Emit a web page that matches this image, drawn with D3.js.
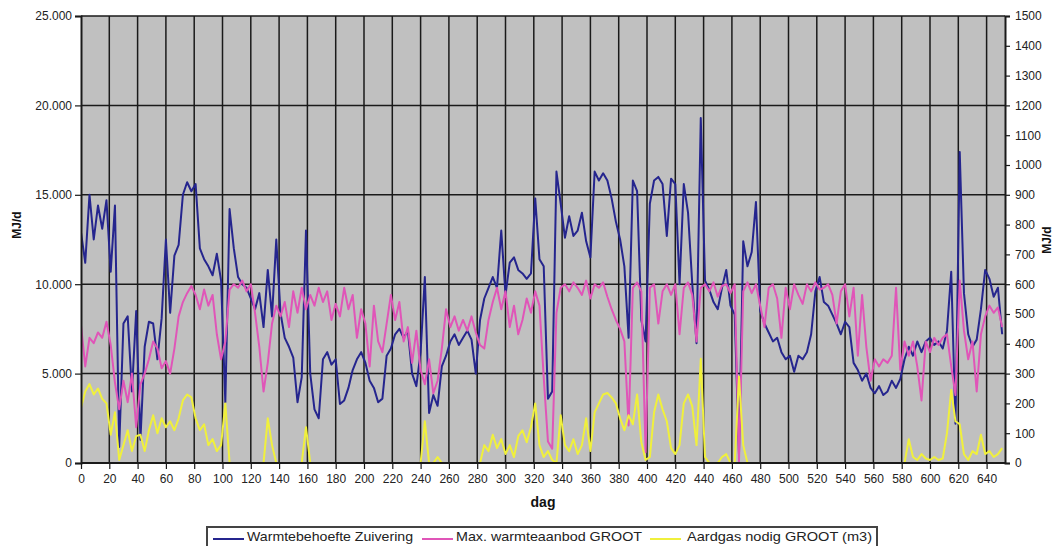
<!DOCTYPE html>
<html>
<head>
<meta charset="utf-8">
<script src="https://cdn.jsdelivr.net/npm/d3@7"></script>
<style>
  body { margin: 0; background: #fff; }
  text { font-family: "Liberation Sans", Arial, sans-serif; }
</style>
</head>
<body>
<svg id="chart" width="1062" height="546"></svg>
<script>
// Daily series, sampled every 3 days (day 0, 3, 6, ... 651)
const days = d3.range(0, 652, 3);

// Warmtebehoefte Zuivering (MJ/d), left axis
const warmtebehoefte = [
  12900, 11200, 15000, 12500, 14400, 13100, 14700, 10700, 14400, 900,
  7800, 8200, 4000, 8500, 1300, 6500, 7900, 7800, 5800, 8100,
  12500, 8400, 11600, 12200, 15000, 15700, 15200, 15600, 12000, 11400,
  11000, 10500, 11700, 10200, 3400, 14200, 12000, 10400, 10000, 9800,
  9200, 8600, 9500, 7600, 10800, 8200, 12500, 8400, 7000, 6500,
  5900, 3400, 4800, 13000, 5000, 3000, 2500, 5800, 6200, 5500,
  5800, 3300, 3500, 4200, 5200, 5800, 6200, 5600, 4600, 4200,
  3400, 3600, 6000, 6400, 7200, 7500, 7000, 7400, 5000, 4300,
  6200, 10400, 2800, 3800, 3200, 5400, 6000, 6800, 7200, 6600,
  7000, 7400, 6900, 5000, 8000, 9200, 9800, 10400, 9800, 13000,
  9400, 11200, 11500, 10800, 10600, 10300, 10600, 14800, 11400, 11000,
  3600, 4000, 16300, 14500, 12600, 13800, 12700, 13000, 14000, 12400,
  11500, 16300, 15800, 16200, 15800, 14800, 13500, 12500, 11000, 7000,
  15800, 15200, 8000, 6800, 14500, 15800, 16000, 15600, 12700, 15900,
  15600, 10000, 15600, 14000, 10000, 6700, 19300, 10200, 9700, 9000,
  8600, 9800, 10800, 8800, 8300, 500, 12400, 11000, 11800, 14600,
  8500, 7800, 7300, 6800, 7000, 6200, 5800, 6000, 5100, 6000,
  5800, 6200, 7200, 9600, 10400, 9000, 8800, 8300, 7800, 7200,
  7900, 7600, 5600, 5200, 4600, 5000, 4200, 3900, 4300, 3800,
  4000, 4600, 4200, 4700, 5800, 6500, 6000, 6800, 6200, 6800,
  7000, 6600, 6800, 6400, 7400, 10700, 2200, 17400, 9500, 7200,
  6500, 6900, 8600, 10800, 10300, 9300, 9800, 7200
];

// Max. warmteaanbod GROOT (MJ/d), left axis
const warmteaanbod = [
  7700, 5400, 7000, 6700, 7300, 7000, 7900, 6600, 4500, 3000,
  4600, 3400, 5000, 2000, 4400, 5000, 5800, 6800, 6400, 5300,
  5700, 5000, 6400, 8200, 9000, 9500, 9900, 9400, 8600, 9700,
  8800, 9400, 7200, 5800, 6800, 9700, 10000, 9800, 10200, 9600,
  10000, 8400, 6500, 4000, 5600, 7800, 8800, 8200, 9000, 7600,
  9600, 8400, 9800, 8600, 9400, 8800, 9800, 9000, 9600, 8000,
  8900, 8200, 9800, 8600, 9400, 7000, 8600, 7800, 5400, 8800,
  6800, 6200, 7800, 9400, 8000, 9000, 6800, 7600, 5600, 7400,
  5200, 4400, 5800, 3900, 4600, 6400, 8600, 7600, 8200, 7400,
  8000, 7400, 8200, 7300, 6600, 6400, 8000, 9000, 9800, 8600,
  9600, 7600, 8800, 7200, 8000, 9200, 8400, 9600, 8800, 4800,
  1200, 800, 8400, 9800, 10000, 9600, 10100, 9800, 9400, 10200,
  9200, 10000, 9800, 10100, 9300, 8600, 8000, 7500, 6800, 2100,
  9800, 10100, 9600, 600, 9800, 10000, 7800, 9600, 10000, 9400,
  10000, 7200, 9800, 10100, 9400, 6800, 9800, 10000, 9600, 10100,
  9300, 9900, 10000, 9500, 10000, 100, 9600, 10100, 9500, 10000,
  8800, 7600, 9800, 10000, 9200, 7000, 9800, 8600, 10000, 9400,
  8900, 10000, 9600, 10100, 9700, 9800, 10000, 9400, 7800, 9600,
  10000, 8200, 9800, 6000, 9400, 6500, 4600, 5800, 5400, 5800,
  5600, 6000, 9800, 5200, 6800, 6000, 6800, 5400, 3500, 6800,
  6200, 7000, 6600, 7000, 7200, 5400, 3800, 10200, 7400, 5800,
  6800, 4000, 7200, 8200, 8800, 8400, 8700, 7600
];

// Aardgas nodig GROOT (m3), right axis
const aardgas = [
  185, 240, 265, 230, 250, 215, 200, 95, 170, 10,
  60, 110, 40, 90, 95, 40, 110, 160, 100, 150,
  120, 140, 110, 150, 210, 230, 220, 150, 110, 130,
  60, 80, 40, 60, 200, 0, 0, 0, 0, 0,
  0, 0, 0, 0, 150, 60, 0, 0, 0, 0,
  0, 0, 0, 120, 0, 0, 0, 0, 0, 0,
  0, 0, 0, 0, 0, 0, 0, 0, 0, 0,
  0, 0, 0, 0, 0, 0, 0, 0, 0, 0,
  0, 140, 0, 0, 20, 0, 0, 0, 0, 0,
  0, 0, 0, 0, 0, 60, 40, 95, 50, 80,
  30, 60, 20, 90, 110, 70, 120, 200, 60, 20,
  40, 10, 0, 160, 60, 40, 80, 30, 60, 150,
  40, 170, 200, 230, 235, 220, 200, 150, 110, 160,
  130, 230, 70, 10, 20, 170, 230, 180, 140, 50,
  30, 60, 200, 230, 190, 60, 350, 20, 0, 0,
  0, 20, 30, 0, 0, 290, 60, 0, 0, 0,
  0, 0, 0, 0, 0, 0, 0, 0, 0, 0,
  0, 0, 0, 0, 0, 0, 0, 0, 0, 0,
  0, 0, 0, 0, 0, 0, 0, 0, 0, 0,
  0, 0, 0, 0, 0, 80, 20, 10, 30, 15,
  10, 20, 10, 15, 100, 245, 140, 130, 30, 10,
  40, 30, 95, 30, 40, 20, 30, 50
];

const seriesNames = ["Warmtebehoefte Zuivering", "Max. warmteaanbod GROOT", "Aardgas nodig GROOT (m3)"];
const seriesColors = ["#25258e", "#e055b8", "#f0f03c"];

const leftTicks = [0, 5000, 10000, 15000, 20000, 25000];
const rightTicks = d3.range(0, 1501, 100);
const dayTicks = d3.range(0, 641, 20);

const svg = d3.select("#chart");
const W = 1062, H = 546;
const plot = { left: 81, right: 1005, top: 16, bottom: 463 };

const x = d3.scaleLinear().domain([0, 653]).range([plot.left, plot.right]);
const yL = d3.scaleLinear().domain([0, 25000]).range([plot.bottom, plot.top]);
const yR = d3.scaleLinear().domain([0, 1500]).range([plot.bottom, plot.top]);

const nl = d3.formatLocale({ decimal: ",", thousands: ".", grouping: [3], currency: ["€", ""] });
const fmtNL = nl.format(",");

svg.append("rect").attr("width", W).attr("height", H).attr("fill", "#fff");

// plot background
svg.append("rect")
  .attr("x", plot.left).attr("y", plot.top)
  .attr("width", plot.right - plot.left).attr("height", plot.bottom - plot.top)
  .attr("fill", "#c0c0c0");

svg.append("clipPath").attr("id", "plot-clip").append("rect")
  .attr("x", plot.left).attr("y", plot.top - 2)
  .attr("width", plot.right - plot.left).attr("height", plot.bottom - plot.top + 1);

// gridlines
const grid = svg.append("g").attr("stroke", "#1a1a1a").attr("stroke-width", 1.5);
grid.selectAll("line.h").data(leftTicks.filter(d => d > 0)).join("line")
  .attr("x1", plot.left).attr("x2", plot.right)
  .attr("y1", d => yL(d)).attr("y2", d => yL(d));
grid.selectAll("line.v").data(dayTicks.filter(d => d > 0)).join("line")
  .attr("y1", plot.top).attr("y2", plot.bottom)
  .attr("x1", d => x(d)).attr("x2", d => x(d));

// series
const lineL = d3.line().x((d, i) => x(days[i])).y(d => yL(d));
const lineR = d3.line().x((d, i) => x(days[i])).y(d => yR(d));
const series = svg.append("g").attr("clip-path", "url(#plot-clip)")
  .attr("fill", "none").attr("stroke-width", 2).attr("stroke-linejoin", "round");
series.append("path").datum(warmtebehoefte).attr("d", lineL).attr("stroke", seriesColors[0]);
series.append("path").datum(warmteaanbod).attr("d", lineL).attr("stroke", seriesColors[1]);
series.append("path").datum(aardgas).attr("d", lineR).attr("stroke", seriesColors[2]);

// axes
const axisStyle = g => {
  g.select(".domain").attr("stroke", "#1a1a1a").attr("stroke-width", 2);
  g.selectAll(".tick line").attr("stroke", "#1a1a1a").attr("stroke-width", 1.2);
  g.selectAll(".tick text").attr("fill", "#222").attr("font-size", 12)
    .attr("font-family", "'Liberation Sans', Arial, sans-serif");
};

svg.append("g").attr("transform", `translate(${plot.left},0)`)
  .call(d3.axisLeft(yL).tickValues(leftTicks).tickFormat(fmtNL).tickSizeOuter(0).tickSize(6).tickPadding(3))
  .call(axisStyle);

svg.append("g").attr("transform", `translate(${plot.right},0)`)
  .call(d3.axisRight(yR).tickValues(rightTicks).tickFormat(d3.format("d")).tickSizeOuter(0).tickSize(5).tickPadding(5))
  .call(axisStyle);

svg.append("g").attr("transform", `translate(0,${plot.bottom})`)
  .call(d3.axisBottom(x).tickValues(dayTicks).tickFormat(d3.format("d")).tickSizeOuter(0).tickSize(6).tickPadding(5))
  .call(axisStyle)
  .call(g => g.select(".domain").attr("d", `M${plot.left},0H${plot.right}`));

// axis titles
svg.append("text").attr("transform", "translate(21,225) rotate(-90)")
  .attr("text-anchor", "middle").attr("font-size", 12).attr("font-weight", "bold").attr("fill", "#111")
  .text("MJ/d");
svg.append("text").attr("transform", "translate(1051,240) rotate(-90)")
  .attr("text-anchor", "middle").attr("font-size", 12).attr("font-weight", "bold").attr("fill", "#111")
  .text("MJ/d");
svg.append("text").attr("x", 543).attr("y", 507)
  .attr("text-anchor", "middle").attr("font-size", 14).attr("font-weight", "bold").attr("fill", "#111")
  .text("dag");

// legend
const legend = svg.append("g");
legend.append("rect").attr("x", 207).attr("y", 527).attr("width", 670).attr("height", 30)
  .attr("fill", "#fff").attr("stroke", "#444").attr("stroke-width", 2);
const legendItems = [
  { sx: 213, tx: 247, tw: 166 },
  { sx: 422, tx: 456, tw: 186 },
  { sx: 650, tx: 687, tw: 185 }
];
legendItems.forEach((it, i) => {
  legend.append("line").attr("x1", it.sx).attr("x2", it.sx + 31).attr("y1", 539).attr("y2", 539)
    .attr("stroke", seriesColors[i]).attr("stroke-width", 2);
  legend.append("text").attr("x", it.tx).attr("y", 541).attr("font-size", 13).attr("fill", "#222")
    .attr("textLength", it.tw).attr("lengthAdjust", "spacingAndGlyphs")
    .text(seriesNames[i]);
});
</script>
</body>
</html>
